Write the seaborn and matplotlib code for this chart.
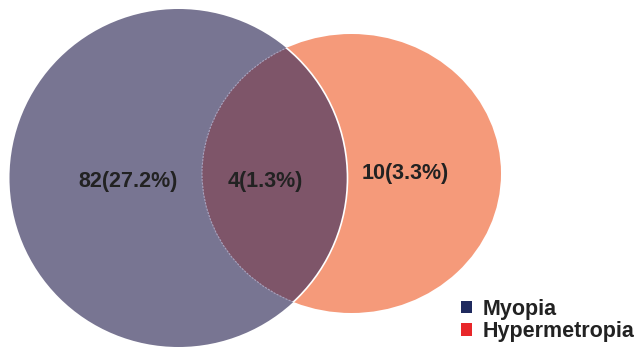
import matplotlib
matplotlib.use("Agg")
import matplotlib.pyplot as plt
from matplotlib.patches import Ellipse, Patch
import seaborn as sns

# ---- data ----
set_names = ["Myopia", "Hypermetropia"]
region_counts = [82, 4, 10]          # Myopia only, both, Hypermetropia only
region_percents = [27.2, 1.3, 3.3]
legend_colors = ["#1F2A5E", "#E8272A"]
fill_colors = ["#787592", "#7E5569", "#F59A7A"]  # left, overlap, right

sns.set_theme(style="white")
plt.rcParams["font.family"] = ["Liberation Sans", "DejaVu Sans"]

W, H = 634, 349
fig = plt.figure(figsize=(W / 100, H / 100), dpi=100)
ax = fig.add_axes([0, 0, 1, 1])
ax.set_xlim(0, W)
ax.set_ylim(H, 0)
ax.set_axis_off()

# layout (pixel space)
left_c, left_w, left_h = (178.5, 178.0), 338, 338
right_c, right_w, right_h = (351.5, 173.5), 299, 279

right = Ellipse(right_c, right_w, right_h, facecolor=fill_colors[2], edgecolor="none", zorder=1)
ax.add_patch(right)
left = Ellipse(left_c, left_w, left_h, facecolor=fill_colors[0], edgecolor="none", zorder=2)
ax.add_patch(left)

# overlap region: right ellipse clipped by left circle
overlap = Ellipse(right_c, right_w, right_h, facecolor=fill_colors[1],
                  edgecolor="#A9A3BE", linewidth=0.8, linestyle=(0, (2, 1)), zorder=3)
ax.add_patch(overlap)
overlap.set_clip_path(left)
# white arc of left circle inside right ellipse
arc = Ellipse(left_c, left_w, left_h, facecolor="none", edgecolor="white", linewidth=1.2, zorder=4)
ax.add_patch(arc)
arc.set_clip_path(right)

labels = [f"{c}({p}%)" for c, p in zip(region_counts, region_percents)]
label_pos = [(128, 181), (265, 181), (405, 173)]
for (x, y), t in zip(label_pos, labels):
    ax.text(x, y, t, ha="center", va="center", fontsize=15.5, fontweight="bold",
            color="#222222", zorder=5)

handles = [Patch(facecolor=c, edgecolor="none") for c in legend_colors]
leg = ax.legend(handles, set_names, loc="upper left", bbox_to_anchor=(461, 299),
                bbox_transform=ax.transData, frameon=False,
                prop={"weight": "bold", "size": 15.5}, handlelength=0.5,
                handleheight=0.5, handletextpad=0.5, labelspacing=0.05,
                borderpad=0, borderaxespad=0)
for t in leg.get_texts():
    t.set_color("#222222")

fig.savefig("out.png", dpi=100)
